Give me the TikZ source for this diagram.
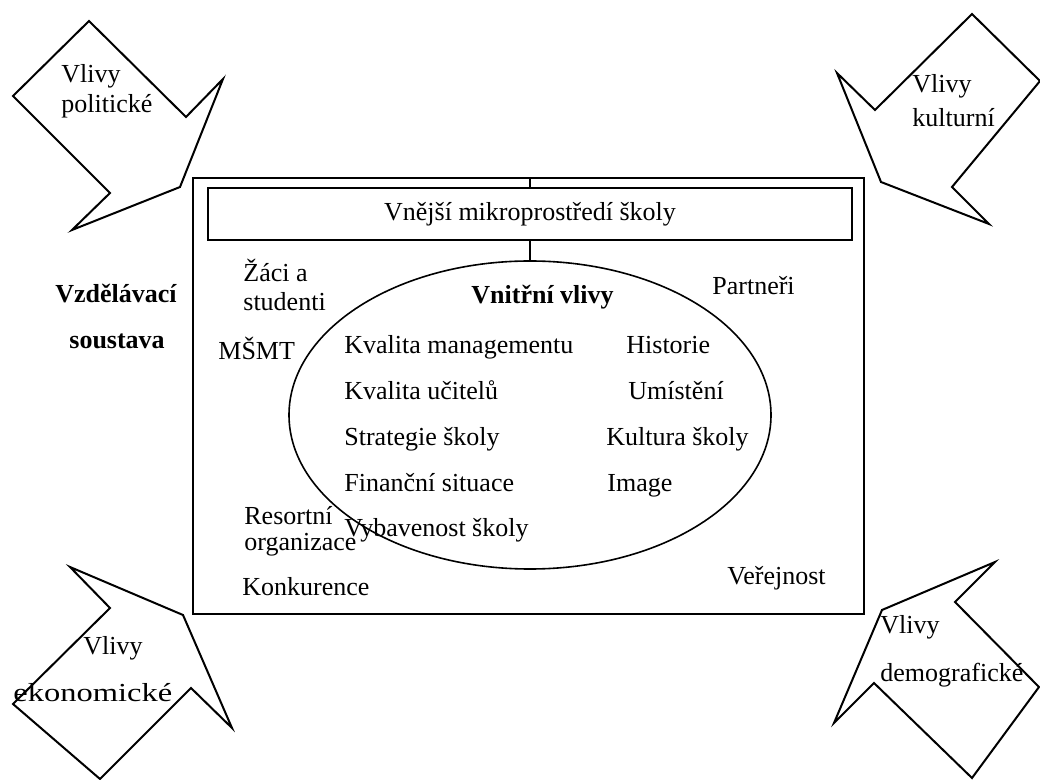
\documentclass[tikz,border=0pt]{standalone}
\usepackage{fontspec}
\usepackage{graphicx}
\setmainfont{Liberation Serif}
\usetikzlibrary{shapes.geometric}

\tikzset{
  vliv/.style={draw, line width=1pt, line join=miter},
  txt/.style={anchor=base west, inner sep=0pt, align=left},
  ramec/.style={draw, line width=0.8pt, inner sep=0pt},
}

\begin{document}
\begin{tikzpicture}[x=0.5pt, y=-0.5pt, font=\fontsize{13}{15}\selectfont]
  \useasboundingbox (0,0) rectangle (1040,780);

  % frame, box and ellipse
  \node[ramec, line width=1pt, minimum width=335.5pt, minimum height=218pt] (soustava) at (528.5,396) {};
  \node[ramec, minimum width=322pt, minimum height=26pt] (vnejsi) at (530,214) {Vnější mikroprostředí školy};
  \node[ramec, ellipse, minimum width=241pt, minimum height=154pt] (vnitrni) at (530,415) {};

  \draw[line width=0.8pt] (vnejsi.north) -- (vnejsi.north |- soustava.north);
  \draw[line width=0.8pt] (vnejsi.south) -- (vnitrni.north);

  % inner influences
  \draw (471,304) node[txt] (vv) {\textbf{Vnitřní vlivy}};
  \draw (344,354) node[txt] (kvm) {Kvalita managementu}
  ++(0,46) node[txt] (kvu) {Kvalita učitelů}
  ++(0,46) node[txt] (str) {Strategie školy}
  ++(0,46) node[txt] (fin) {Finanční situace}
  ++(0,45) node[txt] (vyb) {Vybavenost školy};

  \draw (626,354) node[txt] (his) {Historie}
  ++(2,46) node[txt] (umi) {Umístění};
  \draw (606,446) node[txt] (kul) {Kultura školy}
  ++(1,46) node[txt] (img) {Image};

  % outer microenvironment
  \draw (55,303) node[txt] (vzd) {\textbf{Vzdělávací}}
  ++(14,46) node[txt] (sou) {\textbf{soustava}};
  \draw (243,311) node[txt] (zaci) {Žáci a\\[-0.5pt]studenti};
  \draw (218,360) node[txt] (msmt) {MŠMT};
  \draw (712,295) node[txt] (par) {Partneři};
  \draw (244,551) node[txt] (res) {Resortní\\[-2pt]organizace};
  \draw (242,596) node[txt] (kon) {Konkurence};
  \draw (727,585) node[txt] (ver) {Veřejnost};

  % corner arrows
  \draw[vliv] (89,21) -- (186,117) -- (223,79) -- (180,187) -- (72,230) -- (110,193) -- (13,96) -- cycle;
  \draw (61,113) node[txt] (pol) {Vlivy\\politické};

  \draw[vliv] (972,14) -- (1040,81) -- (952,187) -- (989,224) -- (881,182) -- (837,73) -- (875,110) -- cycle;
  \draw (912,127) node[txt] (kult) {Vlivy\\[2pt]kulturní};

  \draw[vliv] (70,567) -- (110,608) -- (13,704) -- (100,779) -- (191,688) -- (232,728) -- (183,615) -- cycle;
  \draw (13,702) node[txt] (eko) {\hspace*{35pt}Vlivy\\[8.5pt]\scalebox{1.25}[1]{ekonomické}};

  \draw[vliv] (995,562) -- (955,602) -- (1039,687) -- (972,778) -- (874,683) -- (834,723) -- (882,610) -- cycle;
  \draw (880,682) node[txt] (dem) {Vlivy\\[9pt]demografické};

\end{tikzpicture}
\end{document}
